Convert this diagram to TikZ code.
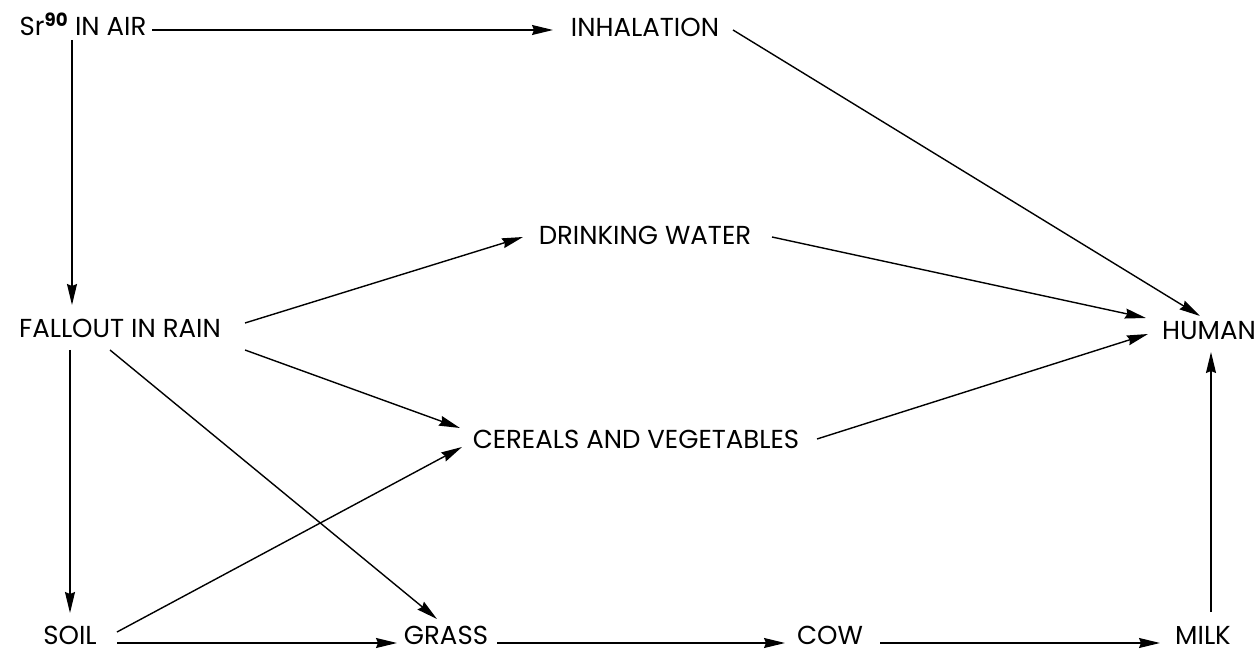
\documentclass[tikz,border=0pt]{standalone}
\usepackage{fontspec}
\setmainfont{Poppins}
\usetikzlibrary{arrows.meta}
\tikzset{
  lbl/.style={inner sep=0pt, anchor=base, font=\fontsize{26}{30}\selectfont},
  arr/.style={line width=1.4pt, -{Stealth[length=21pt,width=10pt,inset=2pt]}},
}
\begin{document}
\begin{tikzpicture}[x=1pt,y=-1pt]
\useasboundingbox (0,0) rectangle (1259,652);
\node[lbl] (S)  at (83,36)   {Sr\textsuperscript{\bfseries 90} IN AIR};
\node[lbl] (I)  at (645,37)  {INHALATION};
\node[lbl] (D)  at (645,245) {DRINKING WATER};
\node[lbl] (F)  at (120,338) {FALLOUT IN RAIN};
\node[lbl] (H)  at (1209,340) {HUMAN};
\node[lbl] (C)  at (636,448) {CEREALS AND VEGETABLES};
\node[lbl] (So) at (70,644)  {SOIL};
\node[lbl] (G)  at (446,644) {GRASS};
\node[lbl] (Co) at (830,644) {COW};
\node[lbl] (M)  at (1203,644) {MILK};

\draw[arr] ([shift={(69,-6)}]S.base) -- ([shift={(-92,-7)}]I.base);
\draw[arr] ([shift={(-11,4)}]S.base) -- ([shift={(-48,-33)}]F.base);
\draw[arr] ([shift={(88,-7)}]I.base) -- ([shift={(-9,-24)}]H.base);
\draw[arr] ([shift={(125,-15)}]F.base) -- ([shift={(-122,-8)}]D.base);
\draw[arr] ([shift={(127,-8)}]D.base) -- ([shift={(-63,-22)}]H.base);
\draw[arr] ([shift={(125,12)}]F.base) -- ([shift={(-176,-20)}]C.base);
\draw[arr] ([shift={(181,-9)}]C.base) -- ([shift={(-61,-6)}]H.base);
\draw[arr] ([shift={(-10,12)}]F.base) -- ([shift={(-9,-25)}]G.base);
\draw[arr] ([shift={(-50,12)}]F.base) -- ([shift={(0,-31)}]So.base);
\draw[arr] ([shift={(47,-12)}]So.base) -- ([shift={(-174,-1)}]C.base);
\draw[arr] ([shift={(47,-1)}]So.base) -- ([shift={(-49,-1)}]G.base);
\draw[arr] ([shift={(51,-1)}]G.base) -- ([shift={(-45,-1)}]Co.base);
\draw[arr] ([shift={(50,-1)}]Co.base) -- ([shift={(-43,-1)}]M.base);
\draw[arr] ([shift={(8,-32)}]M.base) -- ([shift={(2,12)}]H.base);
\end{tikzpicture}
\end{document}
